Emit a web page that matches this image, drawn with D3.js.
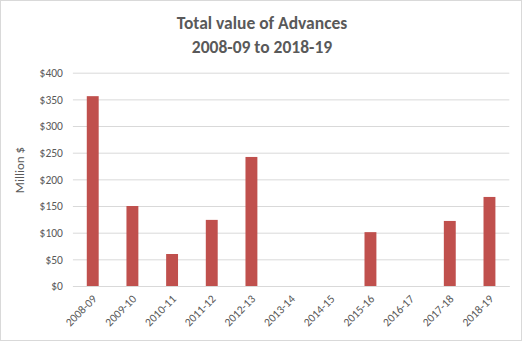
<!DOCTYPE html>
<html><head><meta charset="utf-8">
<script src="https://cdn.jsdelivr.net/npm/d3@7"></script>
<style>body{margin:0;background:#fff}svg{display:block}</style>
</head><body>
<svg id="c" width="524" height="342"></svg>
<script>
const categories = ["2008-09","2009-10","2010-11","2011-12","2012-13","2013-14","2014-15","2015-16","2016-17","2017-18","2018-19"];
const values = [356, 150, 60, 124, 242, 0, 0, 101, 0, 122, 167];
const yTicks = [0, 50, 100, 150, 200, 250, 300, 350, 400];
const titleLines = ["Total value of Advances", "2008-09 to 2018-19"];
const yTitle = "Million $";

const svg = d3.select("#c");
const font = "Carlito, Calibri, 'Open Sans', sans-serif";
svg.append("rect").attr("x",0.5).attr("y",0.5).attr("width",521).attr("height",340)
  .attr("fill","#fff").attr("stroke","#d9d9d9");

const x = d3.scaleBand().domain(categories).range([72.9, 509.3]).paddingInner(0.7).paddingOuter(0.35);
const y = d3.scaleLinear().domain([0, 400]).range([286, 72.7]);

// gridlines
const grid = svg.append("g").attr("transform","translate(72.9,0)")
  .call(d3.axisLeft(y).tickValues(yTicks).tickSize(-(509.3-72.9)).tickFormat(""));
grid.select(".domain").remove();
grid.selectAll("line").attr("stroke","#d9d9d9").attr("stroke-width",1);

// y labels
const yl = svg.append("g").attr("transform","translate(72.9,0)")
  .call(d3.axisLeft(y).tickValues(yTicks).tickSize(0).tickPadding(10).tickFormat(d=>"$"+d));
yl.select(".domain").remove();
yl.selectAll("text").attr("fill","#595959").style("font-family",font).style("font-size","11.5px");

// bars
svg.append("g").selectAll("rect").data(categories).join("rect")
  .attr("x", d=>x(d)).attr("width", x.bandwidth())
  .attr("y", (d,i)=>y(values[i])).attr("height",(d,i)=>y(0)-y(values[i]))
  .attr("fill","#C0504D");

// x axis
const xa = svg.append("g").attr("transform","translate(0,286)")
  .call(d3.axisBottom(x).tickSize(0).tickPadding(6));
xa.select(".domain").attr("stroke","#d9d9d9");
xa.selectAll("text").attr("fill","#595959").style("font-family",font).style("font-size","11.5px")
  .attr("text-anchor","end").attr("dy","0.3em")
  .attr("transform","translate(-2,7) rotate(-45)");

// titles
svg.append("g").selectAll("text").data(titleLines).join("text")
  .attr("x",262).attr("y",(d,i)=>29+i*24).attr("text-anchor","middle")
  .attr("fill","#595959").style("font-family",font).style("font-size","17.5px").style("font-weight","bold")
  .text(d=>d);

svg.append("text").attr("transform","translate(24,170) rotate(-90)").attr("text-anchor","middle")
  .attr("fill","#595959").style("font-family",font).style("font-size","13px").text(yTitle);
</script>
</body></html>
